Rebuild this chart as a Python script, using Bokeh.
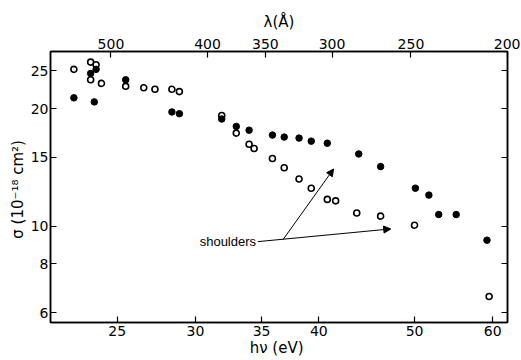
from bokeh.plotting import figure
from bokeh.models import (LogAxis, FixedTicker, PrintfTickFormatter, Range1d,
                          LogScale, Arrow, NormalHead, Label, ColumnDataSource)
from bokeh.embed import file_html
from bokeh.resources import INLINE

# ---- data ----
open_E = [22.6, 23.5, 23.8, 23.5, 24.1, 25.5, 26.6, 27.3, 28.4, 28.9, 31.9, 33.0,
          34.0, 34.4, 35.9, 36.9, 38.2, 39.3, 40.8, 41.6, 43.7, 46.2, 50.0, 59.5]
open_sigma = [25.2, 26.3, 25.9, 23.7, 23.2, 22.8, 22.6, 22.4, 22.4, 22.1, 19.2, 17.3,
              16.2, 15.8, 14.9, 14.1, 13.2, 12.5, 11.7, 11.6, 10.8, 10.6, 10.05, 6.6]

filled_E = [22.6, 23.5, 23.8, 23.7, 25.5, 28.4, 28.9, 31.9, 33.0, 34.0, 35.9, 36.9,
            38.2, 39.3, 40.8, 43.9, 46.2, 50.1, 51.7, 52.9, 55.1, 59.2]
filled_sigma = [21.3, 24.6, 25.2, 20.8, 23.7, 19.6, 19.4, 18.8, 18.0, 17.6, 17.1, 16.9,
                16.8, 16.5, 16.3, 15.3, 14.2, 12.5, 12.0, 10.7, 10.7, 9.2]

E_ticks = [25, 30, 35, 40, 50, 60]
lam_ticks = [200, 250, 300, 350, 400, 500]
sigma_ticks = [6, 8, 10, 15, 20, 25]

# annotation anchors (data units)
shoulder_text = "shoulders"
shoulder_label_at = (30.3, 9.12)
arrow_a = (36.8, 9.23, 41.4, 14.0)
arrow_b = (34.7, 9.12, 47.3, 9.83)

FONT = "DejaVu Sans"

p = figure(width=520, height=359, x_axis_type="log", y_axis_type="log",
           x_range=Range1d(21.4, 62.1), y_range=Range1d(5.66, 28.0),
           output_backend="svg", toolbar_location=None,
           min_border_left=50, min_border_top=51, min_border_right=13,
           min_border_bottom=37,
           x_axis_label="hν  (eV)", y_axis_label="σ  (10⁻¹⁸ cm²)")
p.background_fill_color = "white"
p.border_fill_color = "white"
p.outline_line_color = "black"
p.outline_line_width = 1.5
p.xgrid.visible = False
p.ygrid.visible = False

p.extra_x_ranges = {"lam": Range1d(575, 200)}
p.extra_x_scales = {"lam": LogScale()}

top = LogAxis(x_range_name="lam", ticker=FixedTicker(ticks=lam_ticks),
              axis_label="λ(Å)")
p.add_layout(top, "above")
right = LogAxis(ticker=FixedTicker(ticks=sigma_ticks))
p.add_layout(right, "right")

bottom = p.below[0]
left = p.left[0]
bottom.ticker = FixedTicker(ticks=E_ticks)
left.ticker = FixedTicker(ticks=sigma_ticks)

for ax in [bottom, left, top, right]:
    ax.formatter = PrintfTickFormatter(format="%d")
    ax.major_tick_in = 6
    ax.major_tick_out = 0
    ax.minor_tick_in = 0
    ax.minor_tick_out = 0
    ax.axis_line_width = 1.5
    ax.major_tick_line_width = 1.2
    ax.major_label_text_font = FONT
    ax.major_label_text_font_size = "14px"
    ax.major_label_text_color = "black"
    ax.axis_label_text_font = FONT
    ax.axis_label_text_font_size = "15px"
    ax.axis_label_text_font_style = "normal"
    ax.axis_label_text_color = "black"
    ax.major_label_standoff = 3
    ax.axis_label_standoff = 2

# right axis: ticks only, no labels drawn
right.major_label_text_color = None
right.major_label_text_font_size = "1px"
right.major_label_standoff = 0

left.major_label_standoff = 2
left.axis_label_standoff = 1
bottom.major_label_standoff = 3
bottom.axis_label_standoff = 0
top.axis_label_standoff = 5

src_open = ColumnDataSource(dict(E=open_E, s=open_sigma))
src_fill = ColumnDataSource(dict(E=filled_E, s=filled_sigma))
p.scatter("E", "s", source=src_open, size=6, fill_color="white",
          line_color="black", line_width=1.6)
p.scatter("E", "s", source=src_fill, size=6.5, fill_color="black",
          line_color="black")

for (x0, y0, x1, y1) in [arrow_a, arrow_b]:
    p.add_layout(Arrow(x_start=x0, y_start=y0, x_end=x1, y_end=y1,
                       line_color="black", line_width=1,
                       end=NormalHead(size=7, fill_color="black",
                                      line_color="black")))

p.add_layout(Label(x=shoulder_label_at[0], y=shoulder_label_at[1],
                   text=shoulder_text, text_font="Liberation Sans",
                   text_font_size="13px", text_baseline="middle",
                   text_color="black"))

open("out.html", "w").write(file_html(p, INLINE))
